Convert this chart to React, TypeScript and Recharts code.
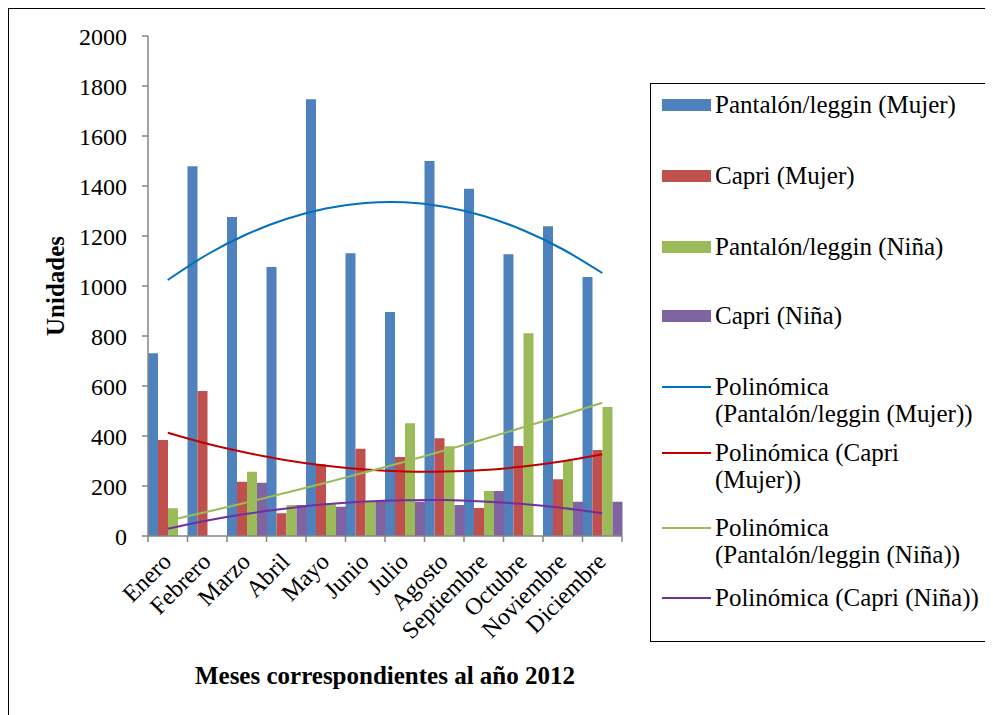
import React from 'react';
import { ComposedChart, Bar, Line, XAxis, YAxis } from 'recharts';

const months = ['Enero', 'Febrero', 'Marzo', 'Abril', 'Mayo', 'Junio', 'Julio', 'Agosto', 'Septiembre', 'Octubre', 'Noviembre', 'Diciembre'];
const pantalonMujer = [731, 1479, 1276, 1076, 1747, 1131, 896, 1500, 1389, 1127, 1239, 1036];
const capriMujer = [384, 580, 217, 91, 287, 349, 316, 391, 112, 360, 227, 344];
const pantalonNina = [111, null, 257, 124, 127, 140, 451, 359, 180, 811, 301, 516];
const capriNina = [null, null, 213, 124, 117, 140, 137, 124, 180, null, 137, 137];
const trendPantalonMujer = [1024, 1126, 1207, 1268, 1310, 1332, 1335, 1317, 1280, 1223, 1147, 1052];
const trendCapriMujer = [413, 369, 333, 303, 281, 266, 258, 258, 264, 278, 299, 327];
const trendPantalonNina = [61, 97, 134, 173, 213, 255, 297, 342, 387, 435, 483, 533];
const trendCapriNina = [29, 62, 89, 110, 127, 138, 143, 144, 138, 128, 112, 91];
const yTicks = [0, 200, 400, 600, 800, 1000, 1200, 1400, 1600, 1800, 2000];

const data = months.map((m, i) => ({
  month: m,
  pm: pantalonMujer[i],
  cm: capriMujer[i],
  pn: pantalonNina[i],
  cn: capriNina[i],
  tpm: trendPantalonMujer[i],
  tcm: trendCapriMujer[i],
  tpn: trendPantalonNina[i],
  tcn: trendCapriNina[i],
}));

const FONT = 'Liberation Serif, Tinos, Times New Roman, DejaVu Serif, serif';
const CHART_W = 975;
const CHART_H = 700;
const MARGIN = { top: 27, right: 362, bottom: 0, left: 0 };
const Y_W = 139;
const X_H = 173;
const PLOT_W = CHART_W - MARGIN.right - MARGIN.left - Y_W;
const AXIS_COLOR = '#868686';

const legendItems = [
  { kind: 'bar', color: '#4F81BD', lines: ['Pantalón/leggin (Mujer)'], top: 104 },
  { kind: 'bar', color: '#C0504D', lines: ['Capri (Mujer)'], top: 175 },
  { kind: 'bar', color: '#9BBB59', lines: ['Pantalón/leggin (Niña)'], top: 246 },
  { kind: 'bar', color: '#8064A2', lines: ['Capri (Niña)'], top: 315 },
  { kind: 'line', color: '#0070C0', lines: ['Polinómica', '(Pantalón/leggin (Mujer))'], top: 386 },
  { kind: 'line', color: '#C00000', lines: ['Polinómica (Capri', '(Mujer))'], top: 452 },
  { kind: 'line', color: '#9BBB59', lines: ['Polinómica', '(Pantalón/leggin (Niña))'], top: 527 },
  { kind: 'line', color: '#7030A0', lines: ['Polinómica (Capri (Niña))'], top: 597 },
];

const XTick = (props: any) => {
  const { x, y, payload, index } = props;
  const band = PLOT_W / months.length;
  const axisY = y - 8;
  const ax = x + 5;
  const ay = axisY + 27;
  return (
    <g>
      <line x1={x - band / 2} x2={x - band / 2} y1={axisY} y2={axisY + 6} stroke={AXIS_COLOR} strokeWidth={1.5} />
      {index === months.length - 1 && (
        <line x1={x + band / 2} x2={x + band / 2} y1={axisY} y2={axisY + 6} stroke={AXIS_COLOR} strokeWidth={1.5} />
      )}
      <text
        x={ax}
        y={ay}
        transform={`rotate(-45, ${ax}, ${ay})`}
        textAnchor="end"
        style={{ fontFamily: FONT }}
        fontSize={24}
        fill="#000"
      >
        {payload.value}
      </text>
    </g>
  );
};

export default function App() {
  return (
    <div
      style={{
        position: 'relative',
        width: 985,
        height: 707,
        borderTop: '1px solid #000',
        borderLeft: '1px solid #000',
        fontFamily: FONT,
        background: '#fff',
        overflow: 'hidden',
      }}
    >
      <ComposedChart
        width={CHART_W}
        height={CHART_H}
        data={data}
        margin={MARGIN}
        barCategoryGap={0}
        barGap={0}
        style={{ fontFamily: FONT }}
      >
        <XAxis
          dataKey="month"
          height={X_H}
          interval={0}
          tickLine={false}
          axisLine={{ stroke: AXIS_COLOR, strokeWidth: 1.5 }}
          tick={<XTick />}
          label={{
            content: () => (
              <text x={376} y={675} textAnchor="middle" style={{ fontFamily: FONT }} fontSize={25} fontWeight="bold" fill="#000">
                Meses correspondientes al año 2012
              </text>
            ),
          }}
        />
        <YAxis
          width={Y_W}
          domain={[0, 2000]}
          ticks={yTicks}
          interval={0}
          tickSize={6}
          tickMargin={15}
          axisLine={{ stroke: AXIS_COLOR, strokeWidth: 1.5 }}
          tickLine={{ stroke: AXIS_COLOR, strokeWidth: 1.5 }}
          tick={{ fill: '#000', fontSize: 24, style: { fontFamily: FONT } }}
          label={{
            content: () => (
              <text
                x={46}
                y={277}
                transform="rotate(-90, 46, 277)"
                textAnchor="middle"
                dominantBaseline="central"
                style={{ fontFamily: FONT }}
                fontSize={25}
                fontWeight="bold"
                fill="#000"
              >
                Unidades
              </text>
            ),
          }}
        />
        <Bar dataKey="pm" fill="#4F81BD" isAnimationActive={false} />
        <Bar dataKey="cm" fill="#C0504D" isAnimationActive={false} />
        <Bar dataKey="pn" fill="#9BBB59" isAnimationActive={false} />
        <Bar dataKey="cn" fill="#8064A2" isAnimationActive={false} />
        <Line dataKey="tpm" type="natural" stroke="#0070C0" strokeWidth={2} dot={false} activeDot={false} isAnimationActive={false} />
        <Line dataKey="tcm" type="natural" stroke="#C00000" strokeWidth={2} dot={false} activeDot={false} isAnimationActive={false} />
        <Line dataKey="tpn" type="natural" stroke="#9BBB59" strokeWidth={2} dot={false} activeDot={false} isAnimationActive={false} />
        <Line dataKey="tcn" type="natural" stroke="#7030A0" strokeWidth={2} dot={false} activeDot={false} isAnimationActive={false} />
      </ComposedChart>
      <div
        style={{
          position: 'absolute',
          left: 641,
          top: 74,
          width: 336,
          height: 557,
          border: '1.5px solid #000',
          boxSizing: 'content-box',
        }}
      >
        {legendItems.map((it) => (
          <div
            key={it.lines.join(' ')}
            style={{
              position: 'absolute',
              left: 0,
              top: it.top - 83 - 14,
              display: 'flex',
              alignItems: 'flex-start',
            }}
          >
            <div style={{ width: 11 }} />
            <div style={{ width: 49, height: 28, display: 'flex', alignItems: 'center' }}>
              {it.kind === 'bar' ? (
                <div style={{ width: 49, height: 12, background: it.color }} />
              ) : (
                <div style={{ width: 49, height: 2, background: it.color }} />
              )}
            </div>
            <div style={{ marginLeft: 4, fontSize: 25, lineHeight: '27px', color: '#000', whiteSpace: 'nowrap' }}>
              {it.lines.map((l) => (
                <div key={l}>{l}</div>
              ))}
            </div>
          </div>
        ))}
      </div>
    </div>
  );
}
